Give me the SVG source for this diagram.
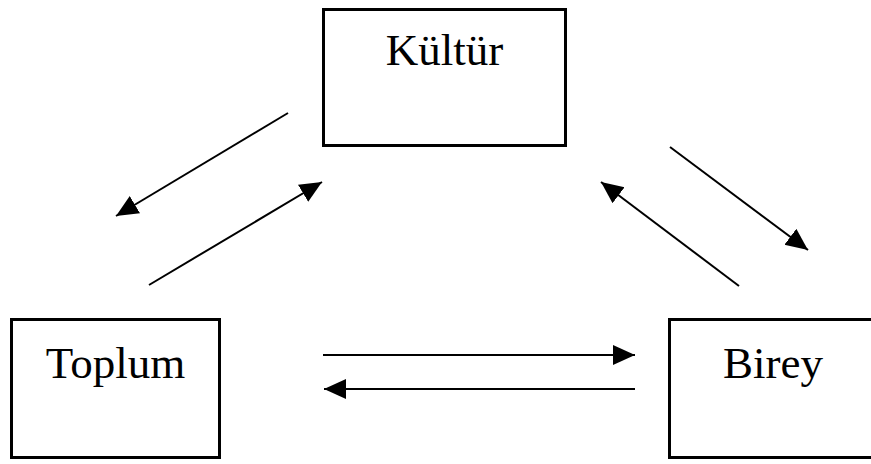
<svg xmlns="http://www.w3.org/2000/svg" width="871" height="464" viewBox="0 0 871 464">
  <style>
    .box { fill: #ffffff; stroke: #000000; stroke-width: 3; }
    .label { font-family: "Liberation Serif", "Times New Roman", serif; font-size: 45px; fill: #000000; text-anchor: middle; }
    .conn { stroke: #000000; stroke-width: 2; fill: none; marker-end: url(#head); }
  </style>
  <defs>
    <marker id="head" markerUnits="userSpaceOnUse" markerWidth="24" markerHeight="22" refX="22" refY="10" orient="auto">
      <path d="M0,0 L22,10 L0,20 Z" fill="#000000"/>
    </marker>
  </defs>
  <rect width="871" height="464" fill="#ffffff"/>

  <g id="kultur">
    <rect class="box" x="323.5" y="9.5" width="242" height="136"/>
    <text class="label" x="444.5" y="65">Kültür</text>
  </g>

  <g id="toplum">
    <rect class="box" x="11.5" y="319.5" width="208" height="138"/>
    <text class="label" x="115.5" y="378">Toplum</text>
  </g>

  <g id="birey">
    <rect class="box" x="669.5" y="319.5" width="208" height="138"/>
    <text class="label" x="773" y="378">Birey</text>
  </g>

  <g id="connectors">
    <!-- Kültür -> Toplum -->
    <line class="conn" x1="288" y1="113" x2="116" y2="216"/>
    <!-- Toplum -> Kültür -->
    <line class="conn" x1="149" y1="285" x2="322" y2="182"/>
    <!-- Kültür -> Birey -->
    <line class="conn" x1="670" y1="147" x2="808" y2="250"/>
    <!-- Birey -> Kültür -->
    <line class="conn" x1="739" y1="286" x2="601" y2="182"/>
    <!-- Toplum -> Birey -->
    <line class="conn" x1="323" y1="355" x2="635" y2="355"/>
    <!-- Birey -> Toplum -->
    <line class="conn" x1="635" y1="389" x2="324" y2="389"/>
  </g>
</svg>
